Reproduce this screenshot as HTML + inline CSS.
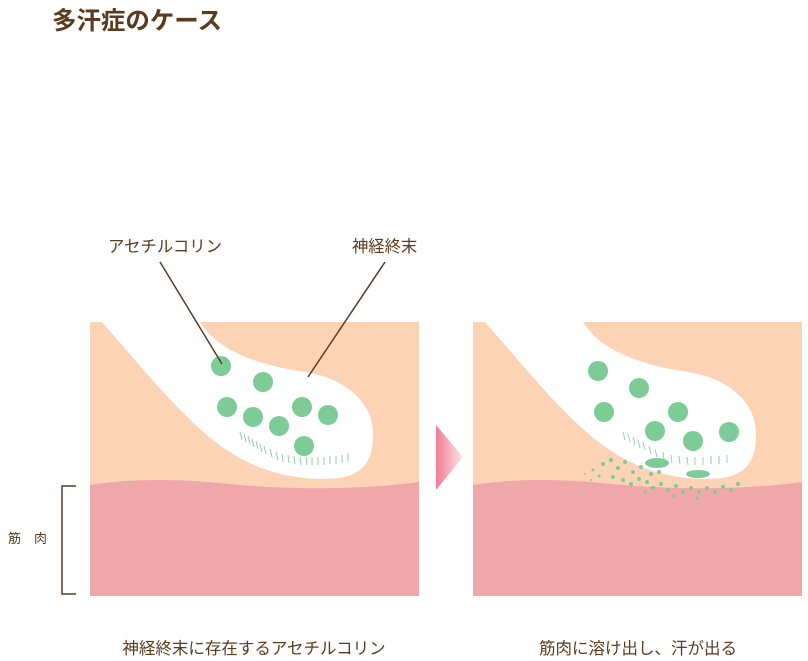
<!DOCTYPE html>
<html><head><meta charset="utf-8"><style>
body{margin:0;width:808px;height:661px;background:#fff;overflow:hidden;font-family:"Liberation Sans","Noto Sans CJK JP",sans-serif;color:#5b3a1e}
</style></head><body>
<svg width="808" height="661" xmlns="http://www.w3.org/2000/svg" style="position:absolute;left:0;top:0">
<defs>
<linearGradient id="g" x1="0" x2="1" y1="0" y2="0"><stop offset="0" stop-color="#f27c92"/><stop offset="1" stop-color="#fde6ea"/></linearGradient>
<g id="panel">
<rect x="0" y="0" width="329" height="274" fill="#fdd3b5"/>
<path d="M0 163 C40 157 80 156 140 162 C200 168 270 168 329 160 L329 274 L0 274 Z" fill="#f0a7aa"/>
<path d="M12 0 L110 0 C125 25 160 42 215 50 C255 56 282 80 283 110 C284 140 272 152 250 156 C210 160 170 150 140 130 C100 105 60 55 12 0 Z" fill="#fff"/>
</g>
</defs>
<g transform="translate(90,322)"><use href="#panel"/>
<g stroke="#8fcfa5" stroke-width="1">
<path d="M150 110 l2 8 M154 112 l2 8 M158 114 l2 8 M162 117 l2 8 M166 119 l2 8 M170 122 l2 8 M174 124 l2 8 M180 127 l2 8 M186 130 l2 8 M192 132 l1 8 M198 133 l1 8 M204 134 l1 8 M210 135 l1 8 M216 135 l1 8 M222 135 l0 8 M228 135 l0 8 M234 135 l0 8 M240 134 l0 8 M246 134 l0 8 M252 133 l0 8 M258 131 l0 8"/>
</g>
<g fill="#7dcc97"><circle cx="131" cy="44" r="10"/><circle cx="173" cy="60" r="10"/><circle cx="137" cy="85" r="10"/><circle cx="163" cy="95" r="10"/><circle cx="189" cy="104" r="10"/><circle cx="212" cy="85" r="10"/><circle cx="238" cy="93" r="10"/><circle cx="214" cy="124" r="10"/></g>
</g>
<g transform="translate(473,322)"><use href="#panel"/>
<g stroke="#9fc8c0" stroke-width="1">
<path d="M150 110 l2 8 M155 112 l2 8 M160 115 l2 8 M165 118 l2 8 M170 120 l2 8 M176 124 l2 8 M182 127 l2 8 M190 130 l1 8 M198 133 l1 8 M206 134 l1 8 M214 135 l1 8 M222 135 l0 8 M230 135 l0 8 M238 134 l0 8 M246 134 l0 8 M254 133 l0 8"/>
</g>
<g fill="#7dcc97"><circle cx="125" cy="49" r="10"/><circle cx="166" cy="66" r="10"/><circle cx="131" cy="90" r="10"/><circle cx="205" cy="90" r="10"/><circle cx="182" cy="109" r="10"/><circle cx="220" cy="119" r="10"/><circle cx="256" cy="110" r="10"/>
<ellipse cx="184" cy="141" rx="12" ry="5"/><ellipse cx="225" cy="152" rx="12" ry="4"/>
<circle cx="130" cy="142" r="2"/><circle cx="138" cy="138" r="2"/><circle cx="145" cy="146" r="2"/><circle cx="152" cy="140" r="2"/><circle cx="160" cy="150" r="2"/><circle cx="168" cy="145" r="2"/><circle cx="120" cy="148" r="1.5"/><circle cx="126" cy="154" r="1.5"/><circle cx="140" cy="155" r="2"/><circle cx="150" cy="158" r="2"/><circle cx="158" cy="162" r="2"/><circle cx="166" cy="157" r="2"/><circle cx="174" cy="160" r="2"/><circle cx="180" cy="166" r="2"/><circle cx="188" cy="162" r="2"/><circle cx="195" cy="168" r="2"/><circle cx="203" cy="164" r="2"/><circle cx="210" cy="170" r="2"/><circle cx="218" cy="166" r="2"/><circle cx="226" cy="170" r="2"/><circle cx="234" cy="166" r="2"/><circle cx="242" cy="170" r="2"/><circle cx="250" cy="165" r="2"/><circle cx="258" cy="168" r="2"/><circle cx="265" cy="162" r="2"/><circle cx="172" cy="170" r="1.5"/><circle cx="200" cy="174" r="1.5"/><circle cx="224" cy="176" r="1.5"/><circle cx="112" cy="152" r="1"/><circle cx="118" cy="158" r="1"/><circle cx="186" cy="150" r="2"/><circle cx="178" cy="152" r="2"/></g>
</g>
<path d="M436 425 L463 457 L436 490 Z" fill="url(#g)"/>
<g stroke="#5b3a1e" stroke-width="1.5" fill="none">
<line x1="160" y1="262" x2="222" y2="364"/><line x1="385" y1="262" x2="308" y2="377"/>
<path d="M76 486 L62 486 L62 594 L76 594"/>
</g>
<g fill="#5b3a1e" font-family="Liberation Sans,Noto Sans CJK JP,sans-serif">
<text x="52" y="29" font-size="24.5" font-weight="bold" textLength="170">多汗症のケース</text>
<text x="108" y="252" font-size="16.3" textLength="114">アセチルコリン</text>
<text x="352" y="252" font-size="16.3">神経終末</text>
<text x="8" y="543" font-size="13">筋</text><text x="34" y="543" font-size="13">肉</text>
<text x="254" y="654" font-size="16.5" text-anchor="middle">神経終末に存在するアセチルコリン</text>
<text x="638" y="654" font-size="16.5" text-anchor="middle">筋肉に溶け出し、汗が出る</text>
</g>
</svg>
</body></html>
